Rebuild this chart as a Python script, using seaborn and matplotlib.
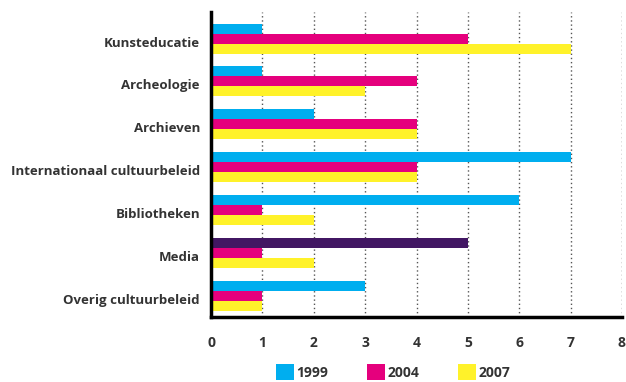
import matplotlib
matplotlib.use("Agg")
import matplotlib.pyplot as plt
import matplotlib.transforms as mtransforms
import seaborn as sns
import pandas as pd
import numpy as np

categories = ["Kunsteducatie", "Archeologie", "Archieven", "Internationaal cultuurbeleid",
              "Bibliotheken", "Media", "Overig cultuurbeleid"]
years = ["1999", "2004", "2007"]
values_1999 = [1, 1, 2, 7, 6, 5, 3]
values_2004 = [5, 4, 4, 4, 1, 1, 1]
values_2007 = [7, 3, 4, 4, 2, 2, 1]
x_ticks = [0, 1, 2, 3, 4, 5, 6, 7, 8]

colors = {"1999": "#00AEEF", "2004": "#E5007D", "2007": "#FFF22A"}
highlight_color = "#421763"  # Media 1999 drawn in a distinct colour
text_color = "#333333"

df = pd.DataFrame({
    "categorie": categories * 3,
    "jaar": [y for y in years for _ in categories],
    "aantal": values_1999 + values_2004 + values_2007,
})

sns.set_style("white")
plt.rcParams["font.family"] = ["Open Sans", "DejaVu Sans"]

fig = plt.figure(figsize=(6.26, 3.82), dpi=100)
ax = fig.add_axes([211 / 626, 1 - 317 / 382, (622 - 211) / 626, (317 - 12) / 382])

sns.barplot(data=df, y="categorie", x="aantal", hue="jaar", order=categories,
            hue_order=years, palette=colors, orient="h", width=0.7,
            saturation=1, linewidth=0, ax=ax)

# recolour the Media bar of 1999
media_idx = categories.index("Media")
ax.containers[0][media_idx].set_facecolor(highlight_color)

ax.set_xlim(0, 8)
ax.set_ylim(6.5, -0.62)
ax.set_xticks(x_ticks)
ax.set_xticklabels([str(t) for t in x_ticks])
ax.set_xlabel("")
ax.set_ylabel("")

# dotted vertical grid
ax.set_axisbelow(True)
for t in x_ticks[1:]:
    ax.axvline(t, color="#555555", linestyle=(0, (1, 2)), linewidth=1, zorder=0)

for side in ["top", "right"]:
    ax.spines[side].set_visible(False)
for side in ["left", "bottom"]:
    ax.spines[side].set_color("black")
    ax.spines[side].set_linewidth(2.5)

ax.tick_params(axis="x", direction="inout", length=7, width=2, color="black",
               pad=10, labelsize=10, labelcolor=text_color)
ax.tick_params(axis="y", which="major", length=0, pad=8, labelsize=9.5,
               labelcolor=text_color)
ax.set_yticks(np.arange(-0.5, 7, 1), minor=True)
ax.tick_params(axis="y", which="minor", direction="out", length=5, width=2, color="black")
for lbl in ax.get_xticklabels():
    lbl.set_fontweight("bold")
shift = mtransforms.ScaledTranslation(0, -3 / 100, fig.dpi_scale_trans)
for lbl in ax.get_yticklabels():
    lbl.set_fontweight("bold")
    lbl.set_transform(lbl.get_transform() + shift)

handles, labels = ax.get_legend_handles_labels()
ax.get_legend().remove()
fig.legend(handles, labels, loc="center", bbox_to_anchor=(393 / 626, 1 - 372 / 382),
           ncol=3, frameon=False, handlelength=1.3, handleheight=1.3,
           handletextpad=0.15, columnspacing=2.8,
           prop={"weight": "bold", "size": 10})
for txt in fig.legends[0].get_texts():
    txt.set_color(text_color)

fig.savefig("out.png", dpi=100)
